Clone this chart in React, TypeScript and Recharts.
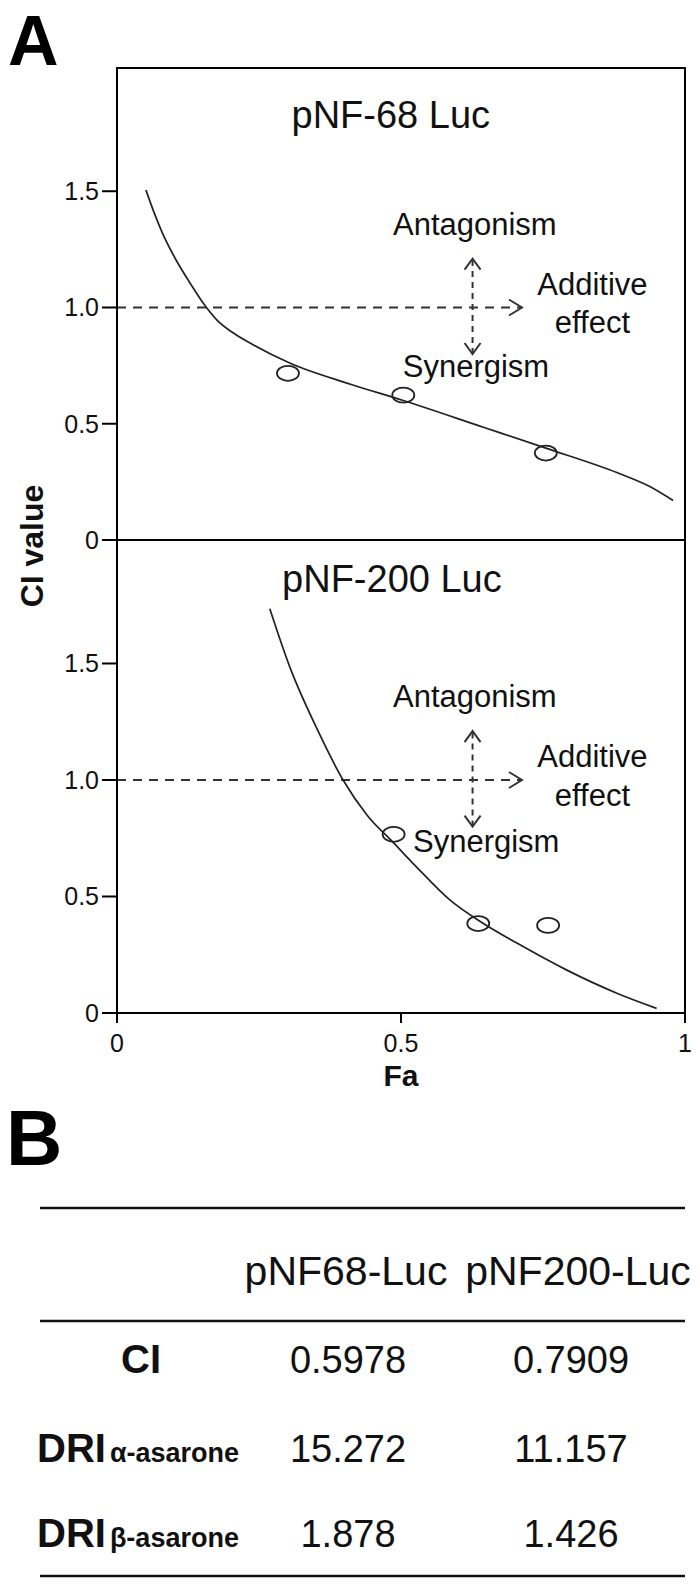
import {
  ComposedChart,
  Line,
  ReferenceArea,
  ReferenceDot,
  ReferenceLine,
  Scatter,
  XAxis,
  YAxis,
} from "recharts";

const FONT = '"Liberation Sans", Arial, Helvetica, sans-serif';
const INK = "#111";

// Fa-CI simulation curves
const TOP_CURVE_FA = [0.051, 0.065, 0.08, 0.105, 0.13, 0.152, 0.176, 0.205, 0.235, 0.305, 0.411, 0.504, 0.645, 0.755, 0.88, 0.938, 0.979];
const TOP_CURVE_CI = [1.505, 1.41, 1.32, 1.2, 1.1, 1.018, 0.946, 0.89, 0.846, 0.76, 0.67, 0.6, 0.485, 0.395, 0.29, 0.23, 0.17];
const TOP_POINT_FA = [0.301, 0.504, 0.755];
const TOP_POINT_CI = [0.717, 0.623, 0.374];

const BOTTOM_CURVE_FA = [0.269, 0.305, 0.352, 0.398, 0.44, 0.487, 0.528, 0.587, 0.645, 0.704, 0.792, 0.88, 0.95];
const BOTTOM_CURVE_CI = [1.735, 1.48, 1.22, 1.0, 0.85, 0.73, 0.625, 0.483, 0.384, 0.3, 0.184, 0.085, 0.02];
const BOTTOM_POINT_FA = [0.487, 0.636, 0.759];
const BOTTOM_POINT_CI = [0.767, 0.384, 0.376];

const Y_TICKS = [0, 0.5, 1, 1.5];
const X_TICKS = [0, 0.5, 1];

// table B
const TABLE_HEADERS = ["pNF68-Luc", "pNF200-Luc"];
const ROW_NAMES = ["CI", "DRI", "DRI"];
const ROW_SUBS = ["", "α-asarone", "β-asarone"];
const PNF68_VALUES = ["0.5978", "15.272", "1.878"];
const PNF200_VALUES = ["0.7909", "11.157", "1.426"];

const Y_MAX = 2.03;

type Pt = { fa: number; ci: number };
const zip = (fa: number[], ci: number[]): Pt[] => fa.map((f, i) => ({ fa: f, ci: ci[i] }));

function HArrow(p: any) {
  const { x1, y1, x2, y2 } = p;
  return (
    <g>
      <line x1={x1} y1={y1} x2={x2} y2={y2} stroke="#333" strokeWidth={2} strokeDasharray="9 7" />
      <polyline
        points={`${x2 - 13},${y2 - 8} ${x2},${y2} ${x2 - 13},${y2 + 8}`}
        fill="none"
        stroke="#333"
        strokeWidth={2}
      />
    </g>
  );
}

function VArrow(p: any) {
  const { x1, y1, x2, y2 } = p;
  return (
    <g fill="none" stroke="#333" strokeWidth={2}>
      <line x1={x1} y1={y1} x2={x2} y2={y2} strokeDasharray="6 5" />
      <polyline points={`${x2 - 8},${y2 + 11} ${x2},${y2} ${x2 + 8},${y2 + 11}`} />
      <polyline points={`${x1 - 8},${y1 - 11} ${x1},${y1} ${x1 + 8},${y1 - 11}`} />
    </g>
  );
}

const noteShape = (text: string, size: number) => (p: any) => (
  <text x={p.cx} y={p.cy} textAnchor="middle" fontSize={size} fontFamily={FONT} fill={INK}>
    {text}
  </text>
);

const ringShape = (p: any) => (
  <ellipse cx={p.cx} cy={p.cy} rx={11} ry={7.5} fill="none" stroke="#222" strokeWidth={1.8} />
);

type PanelProps = {
  curve: Pt[];
  points: Pt[];
  title: string;
  titleAt: [number, number];
  synergyAt: [number, number];
  top: number;
  height: number;
  marginTop: number;
  showX: boolean;
};

function Panel({ curve, points, title, titleAt, synergyAt, top, height, marginTop, showX }: PanelProps) {
  return (
    <div style={{ position: "absolute", left: 0, top }}>
      <ComposedChart
        width={700}
        height={height}
        margin={{ top: marginTop, right: 15, bottom: showX ? 0 : 20, left: 57 }}
      >
        <XAxis
          type="number"
          dataKey="fa"
          domain={[0, 1]}
          ticks={X_TICKS}
          hide={!showX}
          height={80}
          tickSize={10}
          tickMargin={11}
          axisLine={{ stroke: "#000", strokeWidth: 2 }}
          tickLine={{ stroke: "#000", strokeWidth: 2 }}
          tick={{ fill: INK, fontSize: 25, fontFamily: FONT }}
          label={{
            value: "Fa",
            position: "insideBottom",
            offset: 7,
            style: { fill: INK, fontSize: 30, fontWeight: "bold", fontFamily: FONT },
          }}
        />
        <YAxis
          type="number"
          dataKey="ci"
          domain={[0, Y_MAX]}
          ticks={Y_TICKS}
          width={60}
          allowDataOverflow
          tickSize={15}
          tickMargin={3}
          tickFormatter={(v: number) => (v === 0 ? "0" : v.toFixed(1))}
          axisLine={{ stroke: "#000", strokeWidth: 2 }}
          tickLine={{ stroke: "#000", strokeWidth: 2 }}
          tick={{ fill: INK, fontSize: 25, fontFamily: FONT }}
        />
        <ReferenceArea x1={0} x2={1} y1={0} y2={Y_MAX} fill="none" stroke="#000" strokeWidth={2} />
        <ReferenceLine segment={[{ x: 0, y: 1 }, { x: 0.713, y: 1 }]} shape={HArrow} />
        <ReferenceLine segment={[{ x: 0.626, y: 0.8 }, { x: 0.626, y: 1.21 }]} shape={VArrow} />
        <ReferenceDot x={titleAt[0]} y={titleAt[1]} r={0} shape={noteShape(title, 38)} />
        <ReferenceDot x={0.63} y={1.312} r={0} shape={noteShape("Antagonism", 31)} />
        <ReferenceDot x={0.837} y={1.055} r={0} shape={noteShape("Additive", 31)} />
        <ReferenceDot x={0.837} y={0.89} r={0} shape={noteShape("effect", 31)} />
        <ReferenceDot x={synergyAt[0]} y={synergyAt[1]} r={0} shape={noteShape("Synergism", 31)} />
        <Line
          data={curve}
          dataKey="ci"
          type="monotone"
          stroke="#222"
          strokeWidth={1.7}
          dot={false}
          isAnimationActive={false}
        />
        <Scatter data={points} dataKey="ci" shape={ringShape} isAnimationActive={false} />
      </ComposedChart>
    </div>
  );
}

const COL_X = [348, 571];

export default function App() {
  return (
    <div
      style={{
        position: "absolute",
        left: 0,
        top: 0,
        width: 700,
        height: 1589,
        background: "#fff",
        fontFamily: FONT,
      }}
    >
      <Panel
        curve={zip(TOP_CURVE_FA, TOP_CURVE_CI)}
        points={zip(TOP_POINT_FA, TOP_POINT_CI)}
        title="pNF-68 Luc"
        titleAt={[0.482, 1.772]}
        synergyAt={[0.632, 0.7]}
        top={0}
        height={560}
        marginTop={68}
        showX={false}
      />
      <Panel
        curve={zip(BOTTOM_CURVE_FA, BOTTOM_CURVE_CI)}
        points={zip(BOTTOM_POINT_FA, BOTTOM_POINT_CI)}
        title="pNF-200 Luc"
        titleAt={[0.484, 1.805]}
        synergyAt={[0.65, 0.69]}
        top={520}
        height={573}
        marginTop={20}
        showX
      />
      <svg
        width={700}
        height={1589}
        style={{ position: "absolute", left: 0, top: 0, pointerEvents: "none" }}
        fontFamily={FONT}
      >
        <text x={8} y={65} fontSize={70} fontWeight="bold" fill="#000">
          A
        </text>
        <text
          x={43}
          y={546}
          transform="rotate(-90 43 546)"
          textAnchor="middle"
          fontSize={32}
          fontWeight="bold"
          fill={INK}
        >
          CI value
        </text>
        <text x={6} y={1165} fontSize={78} fontWeight="bold" fill="#000">
          B
        </text>

        <line x1={40} x2={685} y1={1208} y2={1208} stroke="#111" strokeWidth={2.5} />
        <line x1={40} x2={685} y1={1321} y2={1321} stroke="#111" strokeWidth={2.5} />
        <line x1={40} x2={685} y1={1576} y2={1576} stroke="#111" strokeWidth={2.5} />

        {TABLE_HEADERS.map((h, i) => (
          <text key={h} x={i === 0 ? 346 : 578} y={1285} textAnchor="middle" fontSize={41} fill={INK}>
            {h}
          </text>
        ))}
        {ROW_NAMES.map((name, r) => {
          const y = [1373, 1462, 1547][r];
          return (
            <g key={r}>
              {ROW_SUBS[r] ? (
                <text x={37} y={y} fontWeight="bold" fill={INK}>
                  <tspan fontSize={40}>{name}</tspan>
                  <tspan dx={4} fontSize={27}>
                    {ROW_SUBS[r]}
                  </tspan>
                </text>
              ) : (
                <text x={141} y={y} textAnchor="middle" fontSize={40} fontWeight="bold" fill={INK}>
                  {name}
                </text>
              )}
              <text x={COL_X[0]} y={y} textAnchor="middle" fontSize={38} fill={INK}>
                {PNF68_VALUES[r]}
              </text>
              <text x={COL_X[1]} y={y} textAnchor="middle" fontSize={38} fill={INK}>
                {PNF200_VALUES[r]}
              </text>
            </g>
          );
        })}
      </svg>
    </div>
  );
}
